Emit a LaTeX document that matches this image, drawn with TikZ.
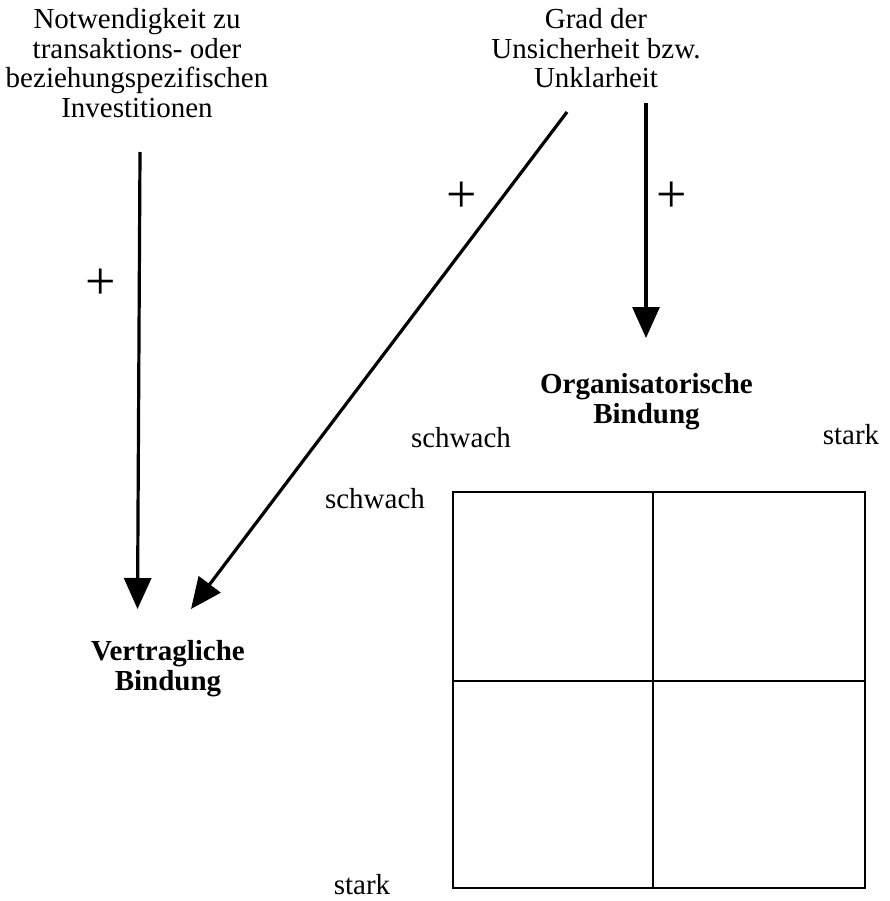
\documentclass[tikz,border=0pt]{standalone}
\usepackage{fontspec}
\setmainfont{Liberation Serif}
\usetikzlibrary{arrows.meta}
\begin{document}
\begin{tikzpicture}[x=1pt,y=-1pt,
  txt/.style={font=\fontsize{29}{29.5}\selectfont, inner sep=0pt, align=center},
  boldtxt/.style={font=\fontsize{29}{29.5}\selectfont\bfseries, inner sep=0pt, align=center},
  lbl/.style={font=\fontsize{29}{29.5}\selectfont, inner sep=0pt, anchor=base},
  plussign/.style={font=\fontsize{54}{54}\selectfont, inner sep=0pt},
  arr/.style={line width=3.2pt, -{Triangle[length=31pt,width=27pt]}},
  gridline/.style={line width=2.6pt}]
\useasboundingbox (0,0) rectangle (889,901);

% text blocks
\node[txt, anchor=north] (need) at (137,8.5) {Notwendigkeit zu\\transaktions- oder\\beziehungspezifischen\\Investitionen};
\node[txt, anchor=north] (unc) at (596,8.5) {Grad der\\Unsicherheit bzw.\\Unklarheit};
\node[boldtxt, anchor=north] (org) at (646.5,373.5) {Organisatorische\\Bindung};
\node[boldtxt, anchor=north] (ver) at (168,640.5) {Vertragliche\\Bindung};

% arrows
\coordinate (a1s) at (140,152);
\coordinate (a1e) at (137.5,609);
\coordinate (a2s) at (567,112);
\coordinate (a2e) at (191,609);
\coordinate (a3s) at (646,103);
\coordinate (a3e) at (646,338);
\draw[arr] (a1s) -- (a1e);
\draw[arr] (a2s) -- (a2e);
\draw[arr] (a3s) -- (a3e);

% plus signs
\node[plussign] (p1) at (101,284) {+};
\node[plussign] (p2) at (462,197) {+};
\node[plussign] (p3) at (672,197) {+};

% matrix
\coordinate (gtl) at (453,492);
\coordinate (gbr) at (865,888);
\coordinate (gvt) at (653,492);
\coordinate (gvb) at (653,888);
\coordinate (ghl) at (453,681);
\coordinate (ghr) at (865,681);
\draw[gridline] (gtl) rectangle (gbr);
\draw[gridline] (gvt) -- (gvb);
\draw[gridline] (ghl) -- (ghr);

% axis labels
\node[lbl] (sw1) at (461,447) {schwach};
\node[lbl] (st1) at (851,444) {stark};
\node[lbl] (sw2) at (375,508) {schwach};
\node[lbl] (st2) at (362,894) {stark};
\end{tikzpicture}
\end{document}
